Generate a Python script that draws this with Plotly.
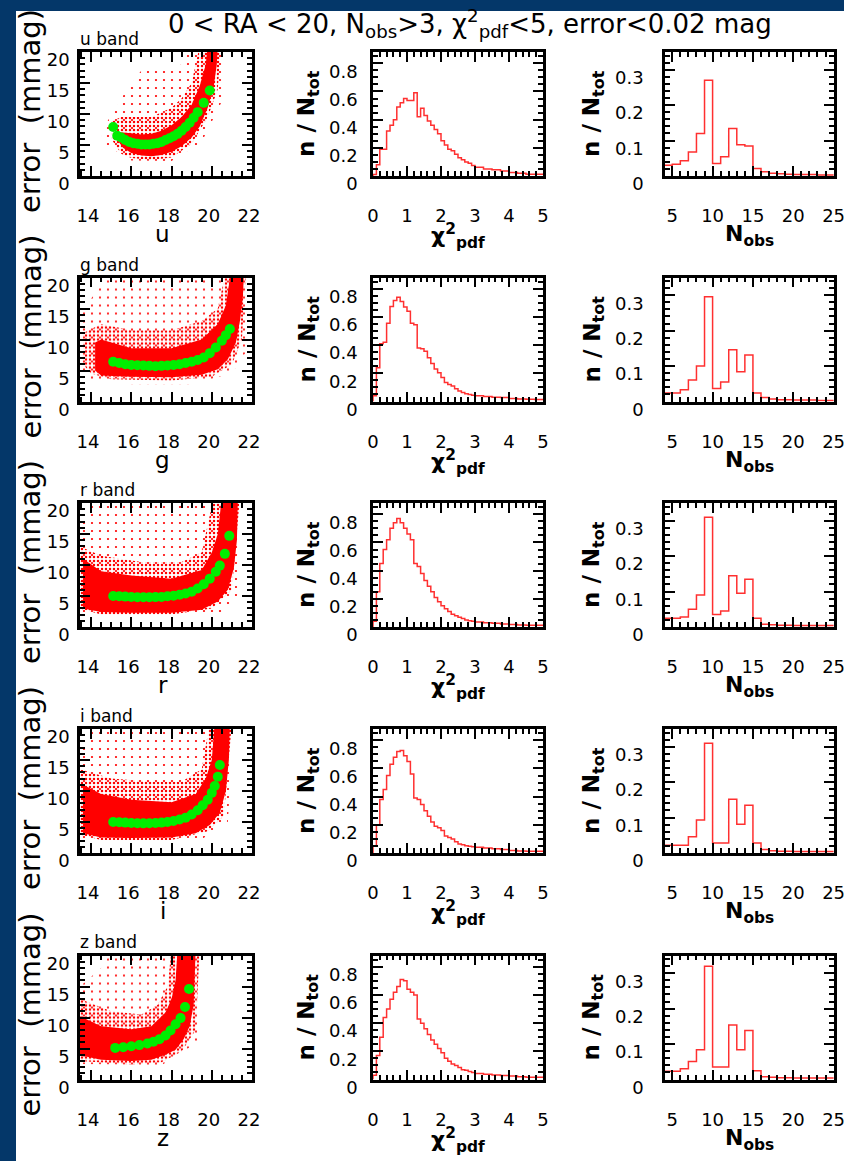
import plotly.graph_objects as go

W, H = 844, 1161
NAVY = "#043769"
RED = "#ff0000"
GREEN = "#00ee00"
HIST_RED = "#ff3030"

BANDS = ["u", "g", "r", "i", "z"]

# ---- error vs magnitude: binned medians (green) ----
u_green_mag = [15.1, 15.3, 15.5, 15.7, 15.9, 16.1, 16.3, 16.5, 16.7, 16.9, 17.1, 17.3, 17.5, 17.7, 17.9,
               18.1, 18.3, 18.5, 18.7, 18.9, 19.1, 19.3, 19.6, 19.9]
u_green_err = [7.9, 6.5, 6.2, 5.8, 5.5, 5.3, 5.2, 5.1, 5.1, 5.1, 5.2, 5.3, 5.5, 5.8, 6.1,
               6.4, 6.8, 7.3, 7.9, 8.6, 9.4, 10.3, 11.8, 13.8]
g_green_mag = [15.1, 15.4, 15.7, 16.0, 16.3, 16.6, 16.9, 17.2, 17.5, 17.8, 18.1, 18.4, 18.7, 19.0,
               19.3, 19.6, 19.9, 20.2, 20.5, 20.7, 20.9]
g_green_err = [6.4, 6.2, 6.0, 5.9, 5.85, 5.8, 5.75, 5.7, 5.75, 5.8, 5.9, 6.0, 6.2, 6.4,
               6.7, 7.1, 7.8, 8.7, 9.8, 10.7, 11.7]
r_green_mag = [15.1, 15.4, 15.7, 16.0, 16.3, 16.6, 16.9, 17.2, 17.5, 17.8, 18.1, 18.4, 18.7, 19.0,
               19.3, 19.6, 19.9, 20.2, 20.4, 20.65, 20.87]
r_green_err = [5.0, 4.95, 4.9, 4.85, 4.8, 4.8, 4.8, 4.82, 4.85, 4.95, 5.05, 5.2, 5.4, 5.7,
               6.2, 6.9, 7.8, 8.9, 9.9, 11.8, 14.7]
i_green_mag = [15.1, 15.4, 15.7, 16.0, 16.3, 16.6, 16.9, 17.2, 17.5, 17.8, 18.1, 18.4, 18.7, 19.0,
               19.3, 19.55, 19.8, 20.0, 20.15, 20.3, 20.4]
i_green_err = [5.0, 4.95, 4.9, 4.85, 4.8, 4.78, 4.8, 4.85, 4.9, 5.0, 5.15, 5.4, 5.7, 6.2,
               6.9, 7.7, 8.6, 9.7, 10.8, 12.3, 14.2]
z_green_mag = [15.2, 15.6, 16.0, 16.4, 16.8, 17.1, 17.4, 17.7, 17.95, 18.2, 18.45, 18.67, 18.87]
z_green_err = [5.1, 5.2, 5.35, 5.55, 5.8, 6.1, 6.5, 7.1, 7.9, 8.9, 9.9, 11.7, 14.6]

# ---- point cloud envelopes (mag, err): dense core, halo, sparse outskirts ----
u_core_lo = [(15.3, 5.8), (15.6, 4.5), (16.0, 3.7), (16.5, 3.3), (17.0, 3.2), (17.5, 3.4), (18.0, 3.9),
             (18.5, 4.8), (19.0, 6.2), (19.4, 8.0), (19.8, 11.0), (20.1, 14.5), (20.25, 18), (20.3, 21)]
u_core_hi = [(15.3, 7.0), (15.6, 7.0), (16.0, 6.9), (16.5, 6.7), (17.0, 6.8), (17.5, 7.3), (18.0, 8.2),
             (18.5, 9.5), (19.0, 11.5), (19.4, 14.5), (19.7, 18), (19.8, 21)]
u_halo_lo = [(15.0, 6.0), (15.5, 3.6), (16.0, 2.9), (17.0, 2.6), (18.0, 3.0), (19.0, 5.2), (19.8, 9.5),
             (20.3, 14), (20.45, 21)]
u_halo_hi = [(15.0, 8.8), (15.5, 9.5), (16.0, 9.5), (17.0, 9.5), (18.0, 11.0), (18.5, 12.5),
             (19.0, 15.0), (19.4, 21)]
u_out_lo = [(14.5, 5.5), (15.0, 4.5), (16.0, 2.5), (18.0, 2.4), (19.5, 5.5), (20.5, 12), (20.6, 21)]
u_out_hi = [(14.5, 7.0), (15.2, 11.0), (16.0, 15.0), (16.5, 17.0), (17.5, 17.0), (18.5, 18.0), (19.0, 21)]

g_core_lo = [(14.2, 5.0), (14.5, 4.2), (16.0, 4.0), (18.0, 3.9), (19.5, 4.3), (20.3, 5.2), (20.8, 6.8),
             (21.2, 9.5), (21.4, 13), (21.55, 17), (21.6, 21)]
g_core_hi = [(14.2, 9.5), (14.5, 10.0), (16.0, 8.6), (18.0, 8.6), (19.5, 10.0), (20.3, 12.5),
             (20.7, 15.5), (20.95, 21)]
g_halo_lo = [(13.6, 6.0), (14.0, 4.5), (15.0, 3.6), (18.0, 3.4), (20.0, 4.0), (21.0, 6.0), (21.5, 10),
             (21.7, 21)]
g_halo_hi = [(13.6, 11.0), (14.5, 12.5), (16.0, 11.5), (18.0, 11.5), (19.5, 13.0), (20.3, 15.0),
             (20.7, 21)]
g_out_lo = [(13.45, 5.0), (14.0, 3.5), (16.0, 2.8), (19.0, 2.8), (21.0, 4.5), (21.7, 8.0), (21.8, 21)]
g_out_hi = [(13.45, 14.0), (14.3, 18.0), (15.0, 20.5), (20.5, 20.5)]

r_core_lo = [(13.6, 3.0), (14.5, 2.4), (16.0, 2.3), (18.0, 2.3), (19.5, 2.8), (20.3, 4.1), (20.8, 6.0),
             (21.1, 9.5), (21.25, 14), (21.3, 21)]
r_core_hi = [(13.6, 11.0), (14.5, 9.0), (16.0, 8.3), (18.0, 7.8), (19.5, 9.2), (20.0, 12.0),
             (20.3, 15.0), (20.5, 21)]
r_halo_lo = [(13.45, 3.0), (14.5, 2.0), (18.0, 2.0), (20.0, 3.0), (21.0, 6.0), (21.4, 21)]
r_halo_hi = [(13.45, 13.0), (14.5, 11.5), (16.5, 10.5), (18.5, 10.5), (19.5, 12.0), (20.1, 21)]
r_out_lo = [(13.45, 2.0), (20.5, 2.0), (21.5, 6.0), (21.5, 21)]
r_out_hi = [(13.45, 16.0), (14.0, 20.5), (20.3, 20.5)]

i_core_lo = [(13.6, 3.2), (14.5, 2.5), (16.0, 2.4), (18.0, 2.5), (19.2, 3.2), (19.9, 4.5), (20.4, 6.5),
             (20.7, 10), (20.85, 15), (20.9, 21)]
i_core_hi = [(13.6, 11.0), (14.5, 9.5), (16.0, 8.6), (18.0, 8.2), (19.2, 9.5), (19.7, 12.0),
             (20.0, 15.0), (20.15, 21)]
i_halo_lo = [(13.45, 3.0), (14.5, 2.1), (18.0, 2.1), (19.8, 3.5), (20.6, 6.0), (21.0, 21)]
i_halo_hi = [(13.45, 13.5), (15.0, 12.0), (17.0, 11.5), (18.5, 11.5), (19.5, 13.5), (19.9, 21)]
i_out_lo = [(13.45, 2.2), (19.5, 2.2), (20.8, 5.0), (21.1, 21)]
i_out_hi = [(13.45, 17.0), (14.0, 20.5), (20.0, 20.5)]

z_core_lo = [(13.45, 3.9), (14.5, 3.2), (16.0, 3.0), (17.0, 3.2), (17.7, 4.0), (18.2, 4.8), (18.6, 6.5),
             (18.9, 8.6), (19.1, 12), (19.2, 21)]
z_core_hi = [(13.45, 10.2), (14.5, 8.6), (16.0, 8.1), (17.0, 8.6), (17.7, 10.8), (18.0, 13.0),
             (18.2, 16.0), (18.3, 21)]
z_halo_lo = [(13.45, 3.0), (16.0, 2.4), (17.5, 2.8), (18.5, 4.5), (19.2, 8.0), (19.4, 21)]
z_halo_hi = [(13.45, 13.0), (15.0, 11.0), (16.5, 10.5), (17.3, 12.0), (17.8, 15.0), (18.0, 21)]
z_out_lo = [(13.45, 2.5), (17.5, 2.3), (19.3, 6.0), (19.5, 21)]
z_out_hi = [(13.45, 15.0), (14.5, 18.0), (15.0, 20.5), (18.2, 20.5)]

# ---- chi^2_pdf histograms: 0.1 wide bins to 3, then 0.25 wide to 5 ----
chi2_edges = [round(0.1 * k, 2) for k in range(31)] + [3.25, 3.5, 3.75, 4.0, 4.25, 4.5, 4.75, 5.0]
u_chi2 = [0.01, 0.08, 0.19, 0.19, 0.32, 0.36, 0.40, 0.49, 0.52, 0.55, 0.535, 0.535, 0.59, 0.42, 0.48,
          0.43, 0.39, 0.36, 0.33, 0.30, 0.25, 0.22, 0.19, 0.18, 0.155, 0.13, 0.115, 0.10, 0.09, 0.075,
          0.062, 0.05, 0.045, 0.035, 0.025, 0.02, 0.012, 0.012]
g_chi2 = [0.04, 0.24, 0.41, 0.42, 0.556, 0.674, 0.716, 0.74, 0.71, 0.67, 0.64, 0.556, 0.545, 0.38, 0.375,
          0.357, 0.31, 0.27, 0.23, 0.204, 0.17, 0.135, 0.12, 0.11, 0.09, 0.075, 0.063, 0.055, 0.05, 0.045,
          0.04, 0.035, 0.03, 0.028, 0.022, 0.018, 0.016, 0.014]
r_chi2 = [0.04, 0.25, 0.45, 0.55, 0.62, 0.70, 0.74, 0.77, 0.74, 0.70, 0.66, 0.62, 0.45, 0.43, 0.38,
          0.33, 0.29, 0.25, 0.21, 0.18, 0.15, 0.13, 0.11, 0.09, 0.08, 0.07, 0.06, 0.05, 0.045, 0.04,
          0.035, 0.03, 0.026, 0.022, 0.018, 0.015, 0.013, 0.012]
i_chi2 = [0.05, 0.2, 0.38, 0.45, 0.55, 0.63, 0.68, 0.72, 0.727, 0.69, 0.65, 0.56, 0.39, 0.38, 0.345,
          0.30, 0.26, 0.22, 0.19, 0.18, 0.16, 0.12, 0.11, 0.10, 0.08, 0.064, 0.058, 0.052, 0.048, 0.044,
          0.04, 0.035, 0.03, 0.024, 0.018, 0.014, 0.012, 0.012]
z_chi2 = [0.03, 0.17, 0.30, 0.44, 0.50, 0.57, 0.62, 0.66, 0.71, 0.70, 0.64, 0.62, 0.60, 0.43, 0.40,
          0.36, 0.32, 0.28, 0.25, 0.22, 0.19, 0.15, 0.13, 0.11, 0.10, 0.085, 0.07, 0.065, 0.056, 0.05,
          0.042, 0.038, 0.032, 0.028, 0.024, 0.02, 0.016, 0.016]

# ---- N_obs histograms: unit bins from 4 to 25 ----
nobs_edges = list(range(4, 26))
u_nobs = [0.03, 0.033, 0.043, 0.068, 0.12, 0.27, 0.035, 0.054, 0.134, 0.088, 0.085, 0.021, 0.012, 0.008,
          0.006, 0.005, 0.004, 0.004, 0.004, 0.003, 0.003]
g_nobs = [0.024, 0.024, 0.033, 0.061, 0.10, 0.296, 0.037, 0.055, 0.146, 0.084, 0.131, 0.024, 0.011, 0.007,
          0.005, 0.005, 0.004, 0.004, 0.004, 0.003, 0.003]
r_nobs = [0.025, 0.025, 0.028, 0.05, 0.09, 0.31, 0.035, 0.045, 0.145, 0.095, 0.135, 0.025, 0.008, 0.006,
          0.005, 0.005, 0.004, 0.004, 0.004, 0.004, 0.004]
i_nobs = [0.022, 0.022, 0.022, 0.046, 0.093, 0.31, 0.028, 0.028, 0.152, 0.081, 0.135, 0.028, 0.01, 0.006,
          0.005, 0.005, 0.004, 0.004, 0.004, 0.004, 0.004]
z_nobs = [0.023, 0.023, 0.03, 0.051, 0.084, 0.32, 0.035, 0.035, 0.154, 0.084, 0.138, 0.025, 0.008, 0.006,
          0.005, 0.005, 0.004, 0.004, 0.004, 0.004, 0.004]

green = {"u": (u_green_mag, u_green_err), "g": (g_green_mag, g_green_err), "r": (r_green_mag, r_green_err),
         "i": (i_green_mag, i_green_err), "z": (z_green_mag, z_green_err)}
clouds = {
    "u": [(u_out_lo, u_out_hi), (u_halo_lo, u_halo_hi), (u_core_lo, u_core_hi)],
    "g": [(g_out_lo, g_out_hi), (g_halo_lo, g_halo_hi), (g_core_lo, g_core_hi)],
    "r": [(r_out_lo, r_out_hi), (r_halo_lo, r_halo_hi), (r_core_lo, r_core_hi)],
    "i": [(i_out_lo, i_out_hi), (i_halo_lo, i_halo_hi), (i_core_lo, i_core_hi)],
    "z": [(z_out_lo, z_out_hi), (z_halo_lo, z_halo_hi), (z_core_lo, z_core_hi)],
}
chi2 = {"u": u_chi2, "g": g_chi2, "r": r_chi2, "i": i_chi2, "z": z_chi2}
nobs = {"u": u_nobs, "g": g_nobs, "r": r_nobs, "i": i_nobs, "z": z_nobs}

# layout in pixels
COL_X = [(80, 252), (373, 543), (665, 834)]
ROW_TOP = [52, 277.5, 503, 729, 955.5]
ROW_H = 124
FONT = "DejaVu Sans"


def polygon(lo, hi):
    xs = [p[0] for p in lo] + [p[0] for p in reversed(hi)]
    ys = [p[1] for p in lo] + [p[1] for p in reversed(hi)]
    return xs + xs[:1], ys + ys[:1]


def steps(edges, vals):
    return [edges[0]] + edges, [0] + vals + [vals[-1]]


def axis_style(rng, dtick, minor, **kw):
    d = dict(range=rng, dtick=dtick, tick0=0, showline=True, linecolor="black", linewidth=2.5,
             mirror="allticks", ticks="inside", ticklen=10, tickwidth=2, tickcolor="black",
             minor=dict(ticks="inside", ticklen=5, tickwidth=1.5, tickcolor="black", dtick=minor, tick0=0),
             showgrid=False, zeroline=False, tickfont=dict(family=FONT, size=18, color="black"),
             fixedrange=True, automargin=False, ticklabeloverflow="allow")
    d.update(kw)
    return d


fig = go.Figure()
layout = {}
annotations = []

# layers of the cloud: sparse outskirts, halo, dense core
layer_style = [
    dict(fillpattern=dict(shape=".", fgcolor=RED, bgcolor="rgba(0,0,0,0)", size=8, solidity=0.06)),
    dict(fillpattern=dict(shape=".", fgcolor=RED, bgcolor="rgba(0,0,0,0)", size=4, solidity=0.3)),
    dict(fillcolor=RED),
]

for r, band in enumerate(BANDS):
    top = ROW_TOP[r]
    ydom = [1 - (top + ROW_H) / H, 1 - top / H]
    for c in range(3):
        n = r * 3 + c + 1
        xa, ya = f"x{n}", f"y{n}"
        xdom = [COL_X[c][0] / W, COL_X[c][1] / W]
        sfx = "" if n == 1 else str(n)
        xref_d, yref_d = f"x{sfx} domain", f"y{sfx} domain"

        if c == 0:
            for (lo, hi), st in zip(clouds[band], layer_style):
                px, py = polygon(lo, hi)
                fig.add_trace(go.Scatter(x=px, y=py, mode="none", fill="toself", xaxis=xa, yaxis=ya,
                                         hoverinfo="skip", **st))
            gm, ge = green[band]
            fig.add_trace(go.Scatter(x=gm, y=ge, mode="markers", xaxis=xa, yaxis=ya,
                                     marker=dict(size=10, color=GREEN, line=dict(width=0))))
            layout[f"xaxis{sfx}"] = axis_style([13.45, 22.0], 2, 0.5, domain=xdom, anchor=ya,
                                               ticklabelstandoff=22, ticklabelshift=-3)
            layout[f"yaxis{sfx}"] = axis_style([0, 20], 5, 1, domain=ydom, anchor=xa,
                                               ticklabelstandoff=4, ticklabelshift=8)
            annotations += [
                dict(text=f"{band} band", xref=xref_d, yref=yref_d, x=0, y=1, xanchor="left",
                     yanchor="bottom", showarrow=False, xshift=-2, yshift=1,
                     font=dict(family=FONT, size=17, color="black")),
                dict(text=band, xref=xref_d, yref=yref_d, x=0.48, y=0, xanchor="center", yanchor="middle",
                     showarrow=False, yshift=-58, font=dict(family=FONT, size=23, color="black")),
                dict(text="error  (mmag)", xref=xref_d, yref=yref_d, x=0, y=0.5, textangle=-90,
                     xanchor="center", yanchor="middle", showarrow=False, xshift=-50, yshift=3,
                     font=dict(family=FONT, size=29, color="black")),
            ]
        elif c == 1:
            sx, sy = steps(chi2_edges, chi2[band])
            fig.add_trace(go.Scatter(x=sx, y=sy, mode="lines", line=dict(shape="hv", color=HIST_RED, width=1.5),
                                     xaxis=xa, yaxis=ya))
            layout[f"xaxis{sfx}"] = axis_style([0, 5], 1, 0.2, domain=xdom, anchor=ya, ticklabelstandoff=22)
            layout[f"yaxis{sfx}"] = axis_style([0, 0.88], 0.2, 0.05, domain=ydom, anchor=xa,
                                               ticklabelstandoff=9, ticklabelshift=8)
            annotations += [
                dict(text="<b>n / N<sub>tot</sub></b>", xref=xref_d, yref=yref_d, x=0, y=0.5,
                     textangle=-90, xanchor="center", yanchor="middle", showarrow=False,
                     xshift=-65, yshift=0, font=dict(family=FONT, size=23, color="black")),
                dict(text="<b>χ<sup>2</sup><sub>pdf</sub></b>", xref=xref_d, yref=yref_d, x=0.5, y=0,
                     xanchor="center", showarrow=False, yshift=-78,
                     font=dict(family=FONT, size=22, color="black")),
            ]
        else:
            sx, sy = steps(nobs_edges, nobs[band])
            fig.add_trace(go.Scatter(x=sx, y=sy, mode="lines", line=dict(shape="hv", color=HIST_RED, width=1.5),
                                     xaxis=xa, yaxis=ya))
            layout[f"xaxis{sfx}"] = axis_style([4.1, 25.05], 5, 1, domain=xdom, anchor=ya, ticklabelstandoff=22)
            layout[f"yaxis{sfx}"] = axis_style([0, 0.35], 0.1, 0.02, domain=ydom, anchor=xa,
                                               ticklabelstandoff=15, ticklabelshift=8)
            annotations += [
                dict(text="<b>n / N<sub>tot</sub></b>", xref=xref_d, yref=yref_d, x=0, y=0.5,
                     textangle=-90, xanchor="center", yanchor="middle", showarrow=False,
                     xshift=-72, yshift=0, font=dict(family=FONT, size=23, color="black")),
                dict(text="<b>N<sub>obs</sub></b>", xref=xref_d, yref=yref_d, x=0.5, y=0,
                     xanchor="center", showarrow=False, yshift=-76,
                     font=dict(family=FONT, size=22, color="black")),
            ]

annotations.append(dict(text="0 < RA < 20, N<sub>obs</sub>>3, χ<sup>2</sup><sub>pdf</sub><5, error<0.02 mag",
                        xref="paper", yref="paper", x=470 / W, y=1 - 3 / H, xanchor="center",
                        showarrow=False, font=dict(family=FONT, size=26, color="black")))

fig.update_layout(
    template="none",
    width=W, height=H, margin=dict(l=0, r=0, t=0, b=0, pad=0),
    paper_bgcolor=NAVY, plot_bgcolor="white", showlegend=False,
    shapes=[dict(type="rect", xref="paper", yref="paper", x0=16 / W, x1=1, y0=0, y1=1 - 11 / H,
                 fillcolor="white", line=dict(width=0), layer="below")],
    annotations=annotations,
    **layout,
)

fig.write_html("out.html", config={"displayModeBar": False},
               post_script="document.body.style.margin='0';document.body.style.overflow='hidden';")
